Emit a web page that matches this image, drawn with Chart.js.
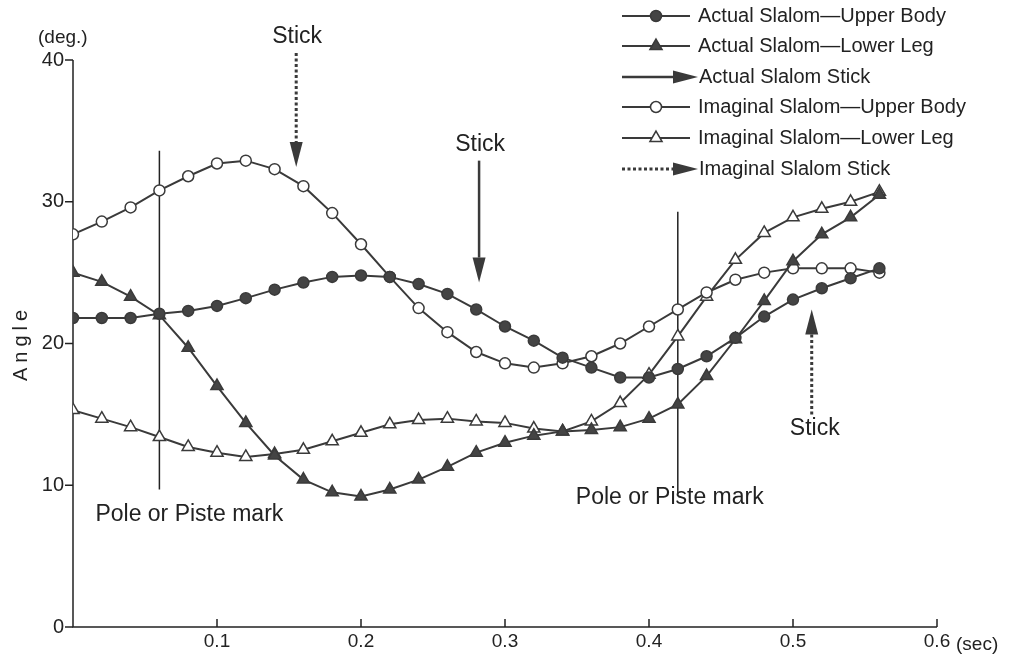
<!DOCTYPE html>
<html>
<head>
<meta charset="utf-8">
<script src="https://cdn.jsdelivr.net/npm/chart.js@4/dist/chart.umd.min.js"></script>
<style>
  html, body { margin: 0; padding: 0; background: #fff; }
  #wrap { width: 1009px; height: 662px; }
</style>
</head>
<body>
<div id="wrap"><canvas id="angleChart" width="1009" height="662"></canvas></div>
<script>
// time (sec) of each sample
const times = [0, 0.02, 0.04, 0.06, 0.08, 0.10, 0.12, 0.14, 0.16, 0.18,
  0.20, 0.22, 0.24, 0.26, 0.28, 0.30, 0.32, 0.34, 0.36, 0.38,
  0.40, 0.42, 0.44, 0.46, 0.48, 0.50, 0.52, 0.54, 0.56];

// angles (deg.)
const actualUpper = [21.8, 21.8, 21.8, 22.1, 22.3, 22.65, 23.2, 23.8, 24.3, 24.7,
  24.8, 24.7, 24.2, 23.5, 22.4, 21.2, 20.2, 19.0, 18.3, 17.6,
  17.6, 18.2, 19.1, 20.4, 21.9, 23.1, 23.9, 24.6, 25.3];
const actualLower = [25.0, 24.35, 23.3, 22.0, 19.7, 17.0, 14.4, 12.1, 10.4, 9.5,
  9.2, 9.7, 10.4, 11.3, 12.3, 13.0, 13.5, 13.8, 13.9, 14.1,
  14.7, 15.7, 17.7, 20.3, 23.0, 25.8, 27.7, 28.9, 30.5];
const imaginalUpper = [27.7, 28.6, 29.6, 30.8, 31.8, 32.7, 32.9, 32.3, 31.1, 29.2,
  27.0, 24.7, 22.5, 20.8, 19.4, 18.6, 18.3, 18.6, 19.1, 20.0,
  21.2, 22.4, 23.6, 24.5, 25.0, 25.3, 25.3, 25.3, 25.0];
const imaginalLower = [15.3, 14.7, 14.1, 13.4, 12.7, 12.3, 12.0, 12.2, 12.5, 13.1,
  13.7, 14.3, 14.6, 14.7, 14.5, 14.4, 14.0, 13.8, 14.5, 15.8,
  17.8, 20.5, 23.3, 25.9, 27.8, 28.9, 29.5, 30.0, 30.7];

const seriesNames = ['Actual Slalom\u2014Upper Body', 'Actual Slalom\u2014Lower Leg',
  'Imaginal Slalom\u2014Upper Body', 'Imaginal Slalom\u2014Lower Leg'];
const stickNames = ['Actual Slalom Stick', 'Imaginal Slalom Stick'];

// stick events: time, arrow tail and tip (deg.), which slalom
const stickTimes = [0.155, 0.282, 0.513];
const stickTails = [40.5, 32.9, 15.0];
const stickTips = [32.45, 24.3, 22.4];
const stickImaginal = [true, false, true];

// pole or piste marks: time, line top and bottom (deg.)
const poleTimes = [0.06, 0.42];
const poleTops = [33.6, 29.3];
const poleBottoms = [9.7, 9.4];

const xTicks = [0, 0.1, 0.2, 0.3, 0.4, 0.5, 0.6];
const yTicks = [0, 10, 20, 30, 40];

const INK = '#3a3a3a';
const TEXT = '#222';
const FONT = '"Liberation Sans", Arial, sans-serif';

function series(label, values, pointStyle, filled, radius) {
  return {
    label,
    data: values.map((v, i) => ({ x: times[i], y: v })),
    borderColor: INK,
    borderWidth: 2,
    pointStyle,
    pointRadius: radius,
    pointBorderWidth: 1.5,
    pointBorderColor: INK,
    pointBackgroundColor: filled ? '#444' : '#fff',
    tension: 0,
  };
}

function arrow(ctx, x0, y0, x1, y1, dotted) {
  const headLen = 25, headHalf = 6.5;
  const ang = Math.atan2(y1 - y0, x1 - x0);
  const bx = x1 - Math.cos(ang) * headLen;
  const by = y1 - Math.sin(ang) * headLen;
  ctx.save();
  ctx.strokeStyle = INK;
  ctx.fillStyle = INK;
  ctx.lineWidth = dotted ? 3 : 2.5;
  ctx.setLineDash(dotted ? [3, 2.5] : []);
  ctx.beginPath();
  ctx.moveTo(x0, y0);
  ctx.lineTo(bx, by);
  ctx.stroke();
  ctx.setLineDash([]);
  ctx.beginPath();
  ctx.moveTo(x1, y1);
  ctx.lineTo(bx - Math.sin(ang) * headHalf, by + Math.cos(ang) * headHalf);
  ctx.lineTo(bx + Math.sin(ang) * headHalf, by - Math.cos(ang) * headHalf);
  ctx.closePath();
  ctx.fill();
  ctx.restore();
}

const decor = {
  id: 'decor',
  beforeDatasetsDraw(chart) {
    const { ctx, scales: { x, y } } = chart;
    ctx.save();
    ctx.strokeStyle = '#222';
    ctx.lineWidth = 1.5;
    // axes
    ctx.beginPath();
    ctx.moveTo(x.left, y.top);
    ctx.lineTo(x.left, y.bottom);
    ctx.lineTo(x.right, y.bottom);
    ctx.stroke();
    ctx.beginPath();
    yTicks.forEach((v) => {
      const py = y.getPixelForValue(v);
      ctx.moveTo(x.left - 8, py);
      ctx.lineTo(x.left, py);
    });
    xTicks.slice(1).forEach((v) => {
      const px = x.getPixelForValue(v);
      ctx.moveTo(px, y.bottom);
      ctx.lineTo(px, y.bottom - 8);
    });
    ctx.stroke();
    // pole marks
    ctx.beginPath();
    poleTimes.forEach((t, i) => {
      const px = x.getPixelForValue(t);
      ctx.moveTo(px, y.getPixelForValue(poleTops[i]));
      ctx.lineTo(px, y.getPixelForValue(poleBottoms[i]));
    });
    ctx.stroke();
    ctx.restore();
  },
  afterDraw(chart) {
    const { ctx, scales: { x, y } } = chart;
    ctx.save();
    ctx.fillStyle = TEXT;
    ctx.textBaseline = 'middle';

    // pole labels
    ctx.font = '23px ' + FONT;
    ctx.textAlign = 'left';
    ctx.fillText('Pole or Piste mark', x.getPixelForValue(poleTimes[0]) - 64, y.getPixelForValue(poleBottoms[0]) + 25);
    ctx.fillText('Pole or Piste mark', x.getPixelForValue(poleTimes[1]) - 102, y.getPixelForValue(poleBottoms[1]) + 4);

    // stick arrows
    ctx.textAlign = 'center';
    stickTimes.forEach((t, i) => {
      const px = x.getPixelForValue(t);
      const tail = y.getPixelForValue(stickTails[i]);
      const tip = y.getPixelForValue(stickTips[i]);
      arrow(ctx, px, tail, px, tip, stickImaginal[i]);
      const up = tip < tail;
      ctx.fillText('Stick', px + (up ? 3 : 1), up ? tail + 14 : tail - 16);
    });

    // axis titles
    ctx.font = '19px ' + FONT;
    ctx.textAlign = 'left';
    ctx.fillText('(deg.)', 38, 38);
    ctx.fillText('(sec)', 956, 645);
    ctx.save();
    ctx.translate(21, 345);
    ctx.rotate(-Math.PI / 2);
    ctx.textAlign = 'center';
    ctx.font = '20px ' + FONT;
    ctx.letterSpacing = '5px';
    ctx.fillText('Angle', 2, 0);
    ctx.restore();

    // legend
    const rowY = [16, 46, 77, 107, 138, 169];
    const rows = [
      { ds: 0 }, { ds: 1 }, { stick: 0 }, { ds: 2 }, { ds: 3 }, { stick: 1 },
    ];
    ctx.font = '20px ' + FONT;
    ctx.textAlign = 'left';
    rows.forEach((r, i) => {
      const ry = rowY[i];
      if (r.ds !== undefined) {
        const ds = chart.data.datasets[r.ds];
        ctx.strokeStyle = INK;
        ctx.lineWidth = 2;
        ctx.beginPath();
        ctx.moveTo(622, ry);
        ctx.lineTo(690, ry);
        ctx.stroke();
        ctx.fillStyle = ds.pointBackgroundColor;
        ctx.strokeStyle = INK;
        ctx.lineWidth = 1.5;
        Chart.helpers.drawPoint(ctx, {
          pointStyle: ds.pointStyle,
          radius: ds.pointRadius,
          borderWidth: 1.5,
          rotation: 0,
        }, 656, ry);
        ctx.fillStyle = TEXT;
        ctx.fillText(ds.label, 698, ry);
      } else {
        arrow(ctx, 622, ry, 698, ry, r.stick === 1);
        ctx.fillStyle = TEXT;
        ctx.fillText(stickNames[r.stick], 699, ry);
      }
    });
    ctx.restore();
  },
};

new Chart(document.getElementById('angleChart'), {
  type: 'line',
  data: {
    datasets: [
      series(seriesNames[0], actualUpper, 'circle', true, 5.5),
      series(seriesNames[1], actualLower, 'triangle', true, 7),
      series(seriesNames[2], imaginalUpper, 'circle', false, 5.5),
      series(seriesNames[3], imaginalLower, 'triangle', false, 7),
    ],
  },
  options: {
    responsive: false,
    animation: false,
    events: [],
    layout: { padding: { top: 60, right: 72, left: 0, bottom: 0 } },
    plugins: {
      legend: { display: false },
      tooltip: { enabled: false },
    },
    scales: {
      x: {
        type: 'linear',
        min: 0,
        max: 0.6,
        grid: { display: false, drawTicks: false },
        border: { display: false },
        afterFit(scale) { scale.height = 35; },
        afterBuildTicks(scale) { scale.ticks = xTicks.map((v) => ({ value: v })); },
        ticks: {
          padding: 3,
          color: TEXT,
          font: { family: FONT, size: 19 },
          maxRotation: 0,
          callback(value) { return value === 0 ? '' : value.toFixed(1); },
        },
      },
      y: {
        min: 0,
        max: 40,
        grid: { display: false, drawTicks: false },
        border: { display: false },
        afterFit(scale) { scale.width = 73; },
        afterBuildTicks(scale) { scale.ticks = yTicks.map((v) => ({ value: v })); },
        ticks: {
          padding: 9,
          color: TEXT,
          font: { family: FONT, size: 20 },
          callback(value) { return String(value); },
        },
      },
    },
  },
  plugins: [decor],
});
</script>
</body>
</html>
